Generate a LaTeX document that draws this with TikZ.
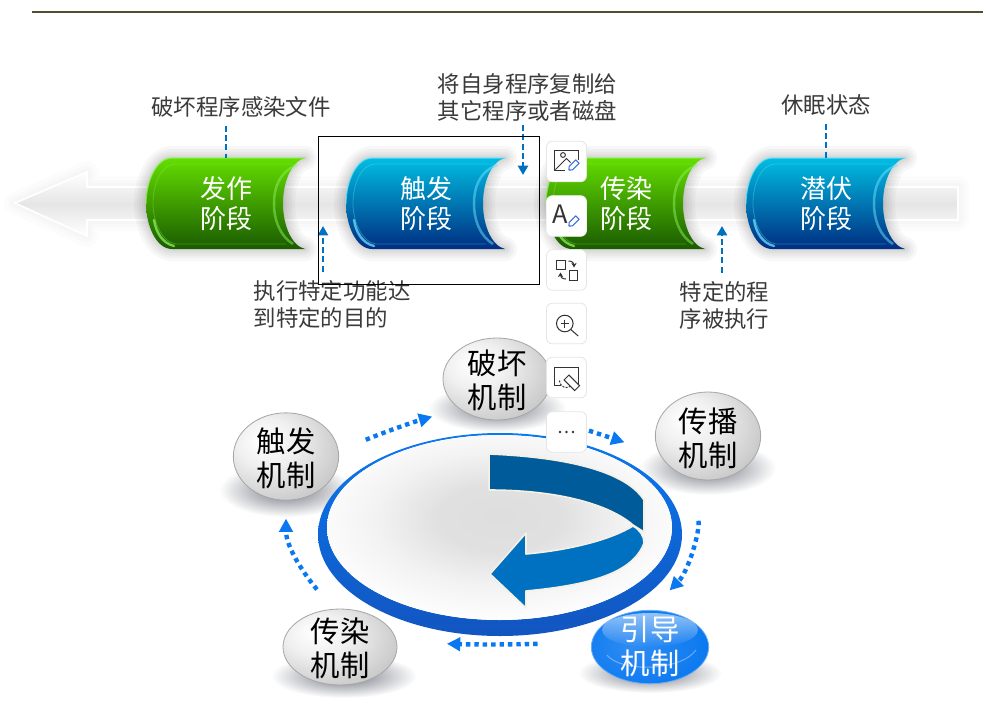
\documentclass[tikz,border=0pt]{standalone}
\usepackage{fontspec}
\setmainfont{Noto Sans CJK SC}
\usetikzlibrary{arrows.meta,shapes.geometric,fadings}
\definecolor{D}{RGB}{0,112,192}
\definecolor{K}{RGB}{0,91,154}
\definecolor{P}{RGB}{10,120,240}
\definecolor{R}{RGB}{18,85,192}
\definecolor{T}{RGB}{58,58,58}
\definecolor{I}{RGB}{51,51,51}
\definecolor{E}{RGB}{59,108,224}
\definecolor{O}{RGB}{82,76,48}
\definecolor{W}{RGB}{245,240,228}
\definecolor{S}{RGB}{112,117,128}
\definecolor{Ga}{RGB}{100,222,0}
\definecolor{Gb}{RGB}{25,90,0}
\definecolor{Gc}{RGB}{140,240,90}
\definecolor{Ba}{RGB}{0,190,225}
\definecolor{Bb}{RGB}{0,45,130}
\definecolor{Bc}{RGB}{110,225,255}
\pgfdeclareradialshading{graysphere}{\pgfpoint{-12bp}{10bp}}{color(0bp)=(white); color(14bp)=(black!6); color(34bp)=(black!22); color(52bp)=(black!32); color(70bp)=(black!38)}
\pgfdeclareradialshading{bluesphere}{\pgfpoint{-8bp}{0bp}}{color(0bp)=(P!85!white); color(30bp)=(P); color(55bp)=(R)}
\pgfdeclareradialshading{discglow}{\pgfpoint{0bp}{3bp}}{color(0bp)=(black!13); color(9bp)=(black!12); color(18bp)=(black!5); color(28bp)=(white); color(70bp)=(white)}
\tikzstyle{annot} = [inner sep=0pt, text=T, align=center, font=\fontsize{16.8}{20.25}\selectfont]
\tikzstyle{stagelabel} = [inner sep=0pt, minimum width=119pt, minimum height=68pt, text=white, align=center, font=\fontsize{19.5}{22.5}\selectfont]
\tikzstyle{sphere} = [ellipse, draw=black!35, line width=0.6pt, inner sep=0pt, shading=graysphere]
\tikzstyle{spheretext} = [inner sep=0pt, align=center, font=\fontsize{22}{25.5}\selectfont]
\tikzstyle{shadowball} = [inner color=S, outer color=white]
\tikzstyle{dashline} = [D, line width=1.8pt, dash pattern=on 4.5pt off 2.5pt]
\tikzstyle{dotarrow} = [P, line width=3.3pt, dash pattern=on 3.3pt off 3pt, -{Triangle[length=10pt,width=10pt]}]
\tikzstyle{toolbtn} = [draw=black!10, fill=white, rounded corners=4.5pt, minimum width=30pt, minimum height=30.5pt, inner sep=0pt, line width=0.6pt]
\tikzstyle{icon} = [I, line width=0.75pt]
\tikzstyle{curvearrow} = [draw=W, line width=1.2pt, line join=round]
\tikzset{
  stageoutline/.style={insert path={(159,0) -- (26,0) .. controls (10,0) and (0,24) .. (0,45.5)
    .. controls (0,67) and (10,91) .. (26,91) -- (159,91)
    .. controls (146,88) and (137,68) .. (137,45.5) .. controls (137,23) and (146,3) .. (159,0) -- cycle}},
  bandoutline/.style={insert path={(15,203) -- (87,172) -- (87,187) -- (958,187) -- (958,220) -- (87,220) -- (87,236) -- cycle}},
}
\newcommand{\stagebox}[6]{
  \begin{scope}[shift={(#1,158)}]
    \foreach \w in {24,18,13,8,4}
      \draw[stageoutline, yshift=-2.5pt, line width=\w*0.75pt, black, opacity=0.03, line join=round];
    \path[stageoutline, top color=#4, bottom color=#5];
    \draw[#6, line width=0.9pt, opacity=0.8] (159,0) -- (26,0) .. controls (10,0) and (0,24) .. (0,45.5);
    \draw[#6, line width=0.6pt, opacity=0.35] (152,6) -- (30,6) .. controls (15,6) and (7,26) .. (7,45.5) .. controls (7,62) and (15,84) .. (30,86) -- (140,86);
    \draw[#6, line width=1.8pt, opacity=0.75, line cap=round] (8,62) .. controls (10,74) and (16,85) .. (28,88);
    \draw[#6, line width=1.9pt, opacity=0.5] (151,7) .. controls (133,14) and (128,30) .. (128,45.5) .. controls (128,62) and (134,78) .. (147,86);
    \node[stagelabel] (#2) at (80,45.5) {#3};
  \end{scope}
}
\newcommand{\pencilmark}[2]{
  \begin{scope}[shift={(#1,#2)}, rotate=45]
    \draw[E, line width=0.8pt, line join=round, fill=white] (0,0) -- (2.5,-2.4) -- (12,-2.4) -- (12,2.4) -- (2.5,2.4) -- cycle;
  \end{scope}
}
\begin{document}
\begin{tikzpicture}[x=0.75pt, y=-0.75pt, >={Triangle[length=7pt,width=7.5pt]}]
  \path[use as bounding box, fill=white] (0,0) rectangle (983,704);
  \draw[line width=1.1pt, O] (32,12) -- (983,12);

  % band behind the stages
  \foreach \w in {22,14,8}
    \draw[bandoutline, black, opacity=0.012, line width=\w*0.75pt, line join=round];
  \path[bandoutline, top color=white, bottom color=white, middle color=black!10];
  \draw[bandoutline, white, line width=1.2pt, line join=miter];

  \stagebox{146}{fazuo}{发作\\阶段}{Ga}{Gb}{Gc}
  \stagebox{346}{chufa}{触发\\阶段}{Ba}{Bb}{Bc}
  \stagebox{546}{chuanran}{传染\\阶段}{Ga}{Gb}{Gc}
  \stagebox{746}{qianfu}{潜伏\\阶段}{Ba}{Bb}{Bc}

  \node[annot] (annfazuo) at (241,107) {破坏程序感染文件};
  \node[annot] (annchuanran) at (527.5,97) {将自身程序复制给\\其它程序或者磁盘};
  \node[annot, align=left] (annchufa) at (332,304) {执行特定功能达\\到特定的目的};
  \node[annot] (annqianfu) at (826,105) {休眠状态};
  \node[annot] (anntezhi) at (724.5,305) {特定的程\\序被执行};
  \coordinate (tipcopy) at (523,175);
  \coordinate (tipchufa) at (323,226);
  \coordinate (tiptezhi) at (722,226);

  \draw[dashline, shorten <=6pt] (annfazuo.south -| fazuo.north) -- (fazuo.north);
  \draw[dashline, shorten <=6pt] (annqianfu.south -| qianfu.north) -- (qianfu.north);
  \draw[dashline, ->, shorten <=3pt] (annchuanran.south -| tipcopy) -- (tipcopy);
  \draw[dashline, ->, shorten <=6pt] (annchufa.north -| tipchufa) -- (tipchufa);
  \draw[dashline, ->, shorten <=6pt] (anntezhi.north -| tiptezhi) -- (tiptezhi);

  % mechanism shadows
  \shade[shadowball] (497,408) ellipse (69 and 24);
  \shade[shadowball] (708,468) ellipse (68 and 27);
  \shade[shadowball] (286,490) ellipse (67 and 27);
  \shade[shadowball] (344,676) ellipse (73 and 22);
  \shade[shadowball] (650,673) ellipse (72 and 20);

  % ring and turning arrow
  \path[even odd rule, top color=P, bottom color=R] (500,534.5) ellipse (182 and 101.5) (499.5,527.5) ellipse (172.5 and 92.5);
  \path[shading=discglow] (499.5,527.5) ellipse (172.5 and 92.5);
  \path[curvearrow, fill=K] (489,454) .. controls (587,458) and (630,478) .. (644,500) -- (644,532) -- (633,525) .. controls (610,505) and (560,490) .. (489,490) -- cycle;
  \path[curvearrow, fill=D] (633,526) .. controls (640,530) and (644,536) .. (644,543) .. controls (633,573) and (590,585) .. (526,591) -- (526,608) -- (490,574) -- (526,533) -- (526,554) .. controls (570,550) and (610,540) .. (633,526) -- cycle;

  % mechanisms
  \node[sphere, minimum width=81pt, minimum height=61.5pt] (pohuai) at (497,379) {};
  \node[sphere, minimum width=79pt, minimum height=66pt] (chuanbo) at (708,436) {};
  \node[sphere, minimum width=79pt, minimum height=65.5pt] (chufaji) at (286,456.5) {};
  \node[sphere, minimum width=85.5pt, minimum height=57pt] (chuanranji) at (340,647) {};
  \node[sphere, shading=bluesphere, draw=P!60!white, minimum width=88pt, minimum height=55pt] (yindao) at (650,647) {};
  \fill[white, path fading=south, opacity=0.55] (650,630) ellipse (48 and 17);
  \draw[white, opacity=0.35, line width=0.8pt] (607,655) .. controls (620,672) and (680,672) .. (696,650);

  \node[spheretext] (pohuaitext) at (497,380) {破坏\\机制};
  \node[spheretext] (chuanbotext) at (708,438) {传播\\机制};
  \node[spheretext] (chufajitext) at (286,458) {触发\\机制};
  \node[spheretext] (chuanranjitext) at (340,648) {传染\\机制};
  \node[spheretext, text=white] (yindaotext) at (650,646) {引导\\机制};

  \draw[dotarrow, shorten <=22pt, shorten >=21pt] (chufaji.6) to[bend left=3] (pohuai.218);
  \draw[dotarrow, shorten <=46pt, shorten >=27.5pt] (pohuai.-44) -- (chuanbo.200);
  \draw[dotarrow, shorten <=32pt, shorten >=20.7pt] (chuanbo.250) to[out=-82, in=45] (yindao.north);
  \draw[dotarrow, shorten <=40.5pt, shorten >=37.5pt] (yindao.175) to[bend left=2] (chuanranji.5);
  \draw[dotarrow, shorten <=19pt, shorten >=13.5pt] (chuanranji.100) to[out=130, in=-90] (chufaji.south);

  % overlay frame and toolbar
  \draw[black, line width=0.75pt] (318,136) rectangle (539,284);
  \node[toolbtn] (btnimage) at (566.5,161.5) {};
  \node[toolbtn, draw=black!5] (btnfont) at (566.5,216) {};
  \node[toolbtn] (btnswap) at (566.5,270) {};
  \node[toolbtn] (btnzoom) at (566.5,323.5) {};
  \node[toolbtn] (btnerase) at (566.5,377.5) {};
  \node[toolbtn] (btnmore) at (566.5,432) {};

  \begin{scope}[shift={(btnimage)}]
    \draw[icon] (11.5,-2) -- (11.5,-11) -- (-12,-11) -- (-12,8.5) -- (-2,8.5);
    \draw[icon] (-3.5,-6.5) circle (2.4);
    \draw[icon] (-11,8) -- (0,-3) -- (4,1);
  \end{scope}
  \pencilmark{569}{170}
  \node[inner sep=0pt, text=I, font=\fontsize{19}{19}\selectfont] (btnfontletter) at (560.5,214) {A};
  \pencilmark{569}{226}
  \begin{scope}[shift={(btnswap)}]
    \draw[icon] (-10.5,-10) rectangle (-1,-0.7);
    \draw[icon] (3,0.7) rectangle (11.3,10);
    \draw[icon, -{Stealth[length=3.5pt,width=4pt]}] (2,-9) .. controls (6,-9) and (7.5,-7) .. (7.5,-2.5);
    \draw[icon, -{Stealth[length=3.5pt,width=4pt]}] (-0.5,9) .. controls (-4.5,9) and (-6,7) .. (-6,2.5);
  \end{scope}
  \begin{scope}[shift={(btnzoom)}]
    \draw[icon] (-1.7,0) circle (8.3);
    \draw[icon] (4.3,6) -- (11.7,12.5);
    \draw[icon] (-5.7,0) -- (2.3,0) (-1.7,-4) -- (-1.7,4);
  \end{scope}
  \begin{scope}[shift={(btnerase)}]
    \draw[icon] (-6,7.5) -- (-12,7.5) -- (-12,-10) -- (11.7,-10) -- (11.7,7.5) -- (9,7.5);
    \draw[icon, dash pattern=on 1.5pt off 1pt] (-7,3) arc (180:60:7);
    \begin{scope}[rotate=-45]
      \draw[icon, fill=white] (0,-3.5) rectangle (15,3.5);
    \end{scope}
  \end{scope}
  \begin{scope}[shift={(btnmore)}]
    \fill[I] (-6.5,0) circle (1.4) (0,0) circle (1.4) (6.5,0) circle (1.4);
  \end{scope}
\end{tikzpicture}
\end{document}
